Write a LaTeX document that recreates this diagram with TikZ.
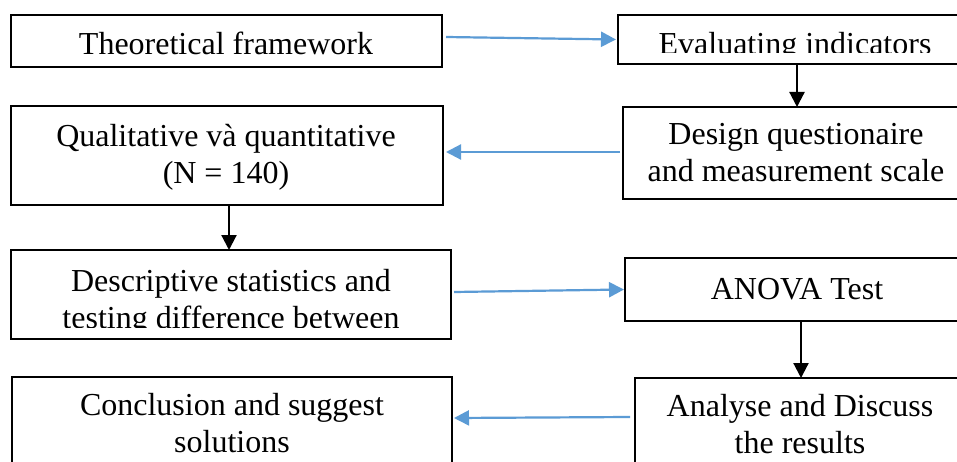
\documentclass[tikz,border=0pt]{standalone}
\usepackage{fontspec}
\setmainfont{Liberation Serif}
\usetikzlibrary{arrows.meta,calc}
\definecolor{arrblue}{RGB}{91,155,213}
\tikzset{
  box/.style={draw=black, line width=2.2pt, rectangle, inner sep=0pt, outer sep=0pt},
  txt/.style={font=\fontsize{32}{37}\selectfont, align=center, inner sep=0pt, anchor=base},
  bluearr/.style={draw=arrblue, line width=2.2pt, -{Triangle[length=15pt,width=15pt]}},
  blackarr/.style={draw=black, line width=2.2pt, -{Triangle[length=15pt,width=15pt]}}
}
\begin{document}
\begin{tikzpicture}[x=1pt,y=-1pt]
\clip (0,0) rectangle (957,462);
\fill[white] (0,0) rectangle (957,462);
% boxes
\node[box, minimum width=431pt, minimum height=52pt] (b1) at (226.5,41) {};
\node[box, minimum width=432pt, minimum height=99pt] (b2) at (227,155.5) {};
\node[box, minimum width=440pt, minimum height=89pt] (b3) at (231,294.5) {};
\node[box, minimum width=440pt, minimum height=123pt] (b4) at (232,438.5) {};
\node[box, minimum width=354pt, minimum height=49pt] (b5) at (795,39.5) {};
\node[box, minimum width=347pt, minimum height=92pt] (b6) at (796.5,153) {};
\node[box, minimum width=345pt, minimum height=63pt] (b7) at (797.5,289.5) {};
\node[box, minimum width=331pt, minimum height=122pt] (b8) at (800.5,439) {};
% texts (base anchor = baseline of the last line)
\node[txt] (t1) at (226,55) {Theoretical framework};
\node[txt] (t2) at (226,184) {Qualitative và quantitative\\(N = 140)};
\begin{scope}
\clip (0,240) rectangle (460,327);
\node[txt] (t3) at (231,328) {Descriptive statistics and\\testing difference between};
\end{scope}
\node[txt] (t4) at (232,452) {Conclusion and suggest\\solutions};
\begin{scope}
\clip (600,0) rectangle (957,53);
\node[txt] (t5) at (795,54.5) {Evaluating indicators};
\end{scope}
\node[txt] (t6) at (796,182) {Design questionaire\\and measurement scale};
\node[txt] (t7) at (797,299) {ANOVA Test};
\node[txt] (t8) at (800,453) {Analyse and Discuss\\the results};
% blue arrows
\draw[bluearr] ($(b1.east)+(4,-4)$) -- ($(b5.west)+(-2,0)$);
\draw[bluearr] ($(b6.west)+(-3,-1)$) -- ($(b2.east)+(3,-3.5)$);
\draw[bluearr] ($(b3.east)+(3,-2.5)$) -- ($(b7.west)+(-1,0)$);
\draw[bluearr] ($(b8.west)+(-5,-22)$) -- ($(b4.east)+(2,-20.5)$);
% black arrows
\draw[blackarr] ($(b5.south)+(2,0)$) -- ($(b6.north)+(0.5,0)$);
\draw[blackarr] ($(b2.south)+(2,0)$) -- ($(b3.north)+(-2,0)$);
\draw[blackarr] ($(b7.south)+(3.5,0)$) -- ($(b8.north)+(0.5,0)$);
\end{tikzpicture}
\end{document}
